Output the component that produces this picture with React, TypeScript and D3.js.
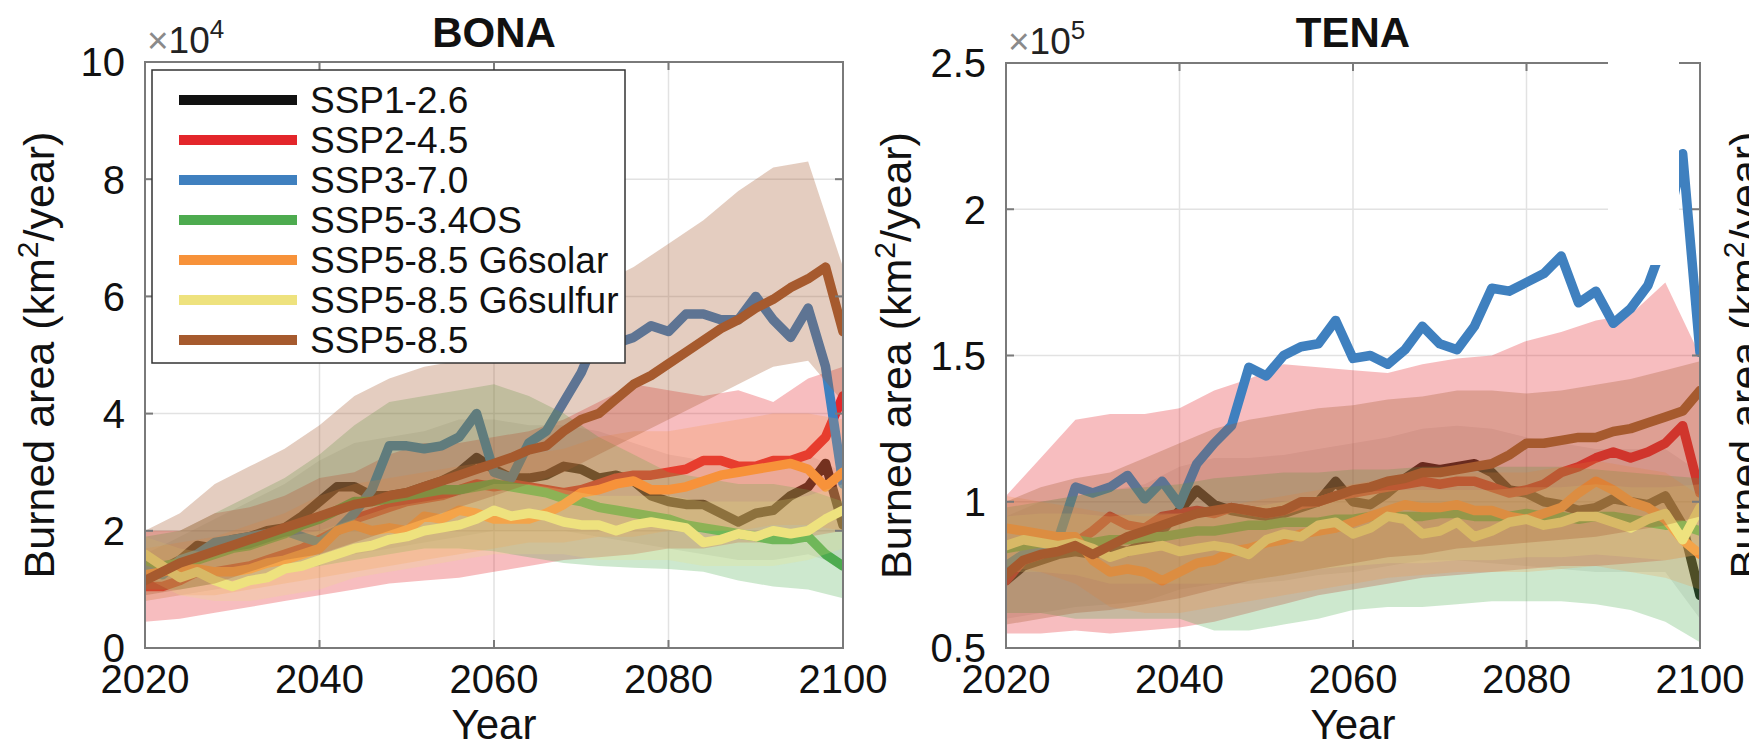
import React from "react";
import * as d3 from "d3";

const W = 1749;
const H = 748;
const FONT = "'Liberation Sans', Arial, Helvetica, sans-serif";

// years of the annual lines (read every 2 years) and of the spread bands (every 4 years)
const lineYears = d3.range(2020, 2101, 2);
const bandYears = d3.range(2020, 2101, 4);
const xTicks = [2020, 2040, 2060, 2080, 2100];

const scenarios = [
  "SSP1-2.6",
  "SSP2-4.5",
  "SSP3-7.0",
  "SSP5-3.4OS",
  "SSP5-8.5 G6solar",
  "SSP5-8.5 G6sulfur",
  "SSP5-8.5",
];
const colors = ["#111111", "#e3262b", "#3f80bf", "#4dab4f", "#f7923a", "#eee27e", "#a65a2e"];
const bandOpacity = [0.08, 0.3, 0, 0.28, 0.22, 0.22, 0.3];

// ---- BONA (x 10^4 km2/year)
const bonaSSP126 = [1.2, 1.35, 1.5, 1.75, 1.7, 1.85, 1.9, 2.0, 2.05, 2.25, 2.5, 2.75, 2.75, 2.6, 2.6, 2.65, 2.75, 2.85, 3.0, 3.25, 3.05, 2.9, 2.9, 2.95, 3.1, 3.05, 2.9, 2.95, 2.85, 2.6, 2.5, 2.45, 2.45, 2.3, 2.15, 2.3, 2.35, 2.6, 2.75, 3.15, 2.1];
const bonaSSP245 = [1.05, 1.05, 1.15, 1.3, 1.3, 1.35, 1.4, 1.5, 1.6, 1.7, 1.85, 2.0, 2.2, 2.3, 2.4, 2.5, 2.55, 2.6, 2.7, 2.8, 2.75, 2.8, 2.75, 2.7, 2.65, 2.7, 2.8, 2.9, 2.95, 2.95, 3.0, 3.05, 3.2, 3.2, 3.1, 3.1, 3.2, 3.2, 3.3, 3.6, 4.3];
const bonaSSP370 = [1.35, 1.25, 1.5, 1.6, 1.8, 1.85, 1.9, 1.95, 2.0, 1.9, 1.8, 2.0, 2.3, 2.7, 3.45, 3.45, 3.4, 3.45, 3.6, 4.0, 3.0, 2.9, 3.5, 3.7, 4.2, 4.7, 5.4, 5.2, 5.3, 5.5, 5.4, 5.7, 5.7, 5.6, 5.6, 6.0, 5.6, 5.3, 5.8, 4.8, 2.8];
const bonaSSP534 = [1.5, 1.4, 1.45, 1.5, 1.6, 1.7, 1.75, 1.85, 1.95, 2.1, 2.2, 2.35, 2.5, 2.5, 2.55, 2.6, 2.65, 2.7, 2.7, 2.75, 2.8, 2.75, 2.7, 2.65, 2.55, 2.5, 2.4, 2.35, 2.3, 2.25, 2.2, 2.1, 2.05, 2.0, 1.95, 1.9, 1.85, 1.85, 1.9, 1.6, 1.4];
const bonaG6solar = [1.25, 1.3, 1.35, 1.35, 1.3, 1.3, 1.35, 1.45, 1.5, 1.6, 1.7, 2.0, 2.1, 2.0, 2.05, 2.0, 2.25, 2.2, 2.35, 2.3, 2.2, 2.2, 2.2, 2.3, 2.45, 2.65, 2.7, 2.8, 2.85, 2.7, 2.7, 2.75, 2.85, 2.95, 3.0, 3.05, 3.1, 3.15, 3.05, 2.75, 3.0];
const bonaG6sulfur = [1.6, 1.4, 1.2, 1.3, 1.15, 1.05, 1.15, 1.2, 1.35, 1.4, 1.5, 1.6, 1.7, 1.75, 1.85, 1.9, 2.0, 2.05, 2.1, 2.2, 2.35, 2.25, 2.3, 2.25, 2.15, 2.1, 2.1, 2.0, 2.1, 2.15, 2.1, 2.05, 1.8, 1.85, 1.95, 1.9, 2.0, 1.95, 2.0, 2.2, 2.35];
const bonaSSP585 = [1.15, 1.3, 1.45, 1.55, 1.65, 1.75, 1.85, 1.95, 2.05, 2.15, 2.25, 2.35, 2.45, 2.5, 2.6, 2.65, 2.75, 2.85, 2.95, 3.05, 3.15, 3.25, 3.38, 3.45, 3.7, 3.9, 4.0, 4.25, 4.5, 4.65, 4.85, 5.05, 5.25, 5.45, 5.6, 5.8, 5.95, 6.15, 6.3, 6.5, 5.4];

const bonaSSP126Lo = [0.8, 0.9, 1.0, 1.1, 1.3, 1.5, 1.6, 1.7, 1.8, 1.9, 2.0, 2.0, 2.0, 1.9, 1.8, 1.7, 1.6, 1.5, 1.5, 1.6, 1.4];
const bonaSSP126Hi = [1.6, 1.9, 2.2, 2.5, 2.8, 3.2, 3.5, 3.6, 3.7, 3.9, 3.9, 3.8, 3.8, 3.7, 3.5, 3.3, 3.2, 3.1, 3.1, 3.3, 3.0];
const bonaSSP245Lo = [0.45, 0.5, 0.6, 0.7, 0.8, 0.9, 1.0, 1.1, 1.15, 1.2, 1.3, 1.4, 1.5, 1.55, 1.6, 1.7, 1.7, 1.8, 1.8, 1.9, 2.0];
const bonaSSP245Hi = [2.0, 2.0, 2.3, 2.4, 2.6, 2.9, 3.0, 3.3, 3.5, 3.5, 3.6, 3.7, 3.9, 4.2, 4.5, 4.4, 4.3, 4.4, 4.2, 4.6, 4.8];
const bonaSSP534Lo = [1.0, 1.0, 1.1, 1.2, 1.3, 1.4, 1.5, 1.6, 1.7, 1.7, 1.65, 1.55, 1.45, 1.4, 1.37, 1.35, 1.3, 1.15, 1.05, 1.0, 0.85];
const bonaSSP534Hi = [1.9, 2.0, 2.3, 2.6, 2.9, 3.3, 3.8, 4.2, 4.3, 4.4, 4.5, 4.3, 4.0, 3.6, 3.3, 3.0, 2.9, 2.8, 2.8, 2.7, 2.5];
const bonaG6solarLo = [0.8, 0.9, 0.9, 1.0, 1.1, 1.2, 1.3, 1.4, 1.5, 1.6, 1.7, 1.8, 1.8, 1.9, 1.9, 2.0, 2.0, 2.0, 2.1, 2.1, 2.0];
const bonaG6solarHi = [1.7, 1.8, 1.9, 2.1, 2.3, 2.6, 2.8, 2.9, 3.0, 3.1, 3.2, 3.3, 3.4, 3.6, 3.7, 3.7, 3.8, 3.9, 4.0, 4.0, 3.9];
const bonaG6sulfurLo = [1.2, 0.9, 0.8, 0.8, 0.9, 1.0, 1.2, 1.3, 1.4, 1.5, 1.6, 1.6, 1.6, 1.5, 1.5, 1.5, 1.4, 1.4, 1.4, 1.5, 1.7];
const bonaG6sulfurHi = [1.9, 1.7, 1.6, 1.7, 1.9, 2.0, 2.2, 2.4, 2.5, 2.6, 2.8, 2.8, 2.7, 2.6, 2.6, 2.6, 2.5, 2.5, 2.5, 2.6, 2.8];
const bonaSSP585Lo = [0.9, 1.0, 1.1, 1.3, 1.5, 1.6, 1.8, 2.0, 2.2, 2.4, 2.6, 2.8, 3.0, 3.3, 3.6, 3.9, 4.2, 4.5, 4.8, 4.9, 4.2];
const bonaSSP585Hi = [2.0, 2.3, 2.8, 3.1, 3.4, 3.8, 4.3, 4.6, 4.8, 4.9, 5.0, 5.1, 5.5, 6.2, 6.5, 6.9, 7.3, 7.8, 8.2, 8.3, 6.5];

// ---- TENA (x 10^5 km2/year)
const tenaSSP126 = [0.73, 0.78, 0.8, 0.82, 0.83, 0.82, 0.84, 0.83, 0.86, 0.9, 0.97, 1.04, 0.99, 0.97, 0.96, 0.95, 0.96, 0.98, 1.0, 1.07, 1.0, 0.99, 1.03, 1.08, 1.12, 1.11, 1.12, 1.13, 1.1, 1.04, 1.03, 1.0, 0.99, 0.97, 0.98, 1.01, 1.0, 0.99, 1.02, 0.92, 0.68];
const tenaSSP245 = [0.73, 0.8, 0.82, 0.85, 0.86, 0.9, 0.95, 0.92, 0.91, 0.95, 0.96, 0.97, 0.96, 0.98, 0.97, 0.96, 0.97, 0.99, 1.0, 1.02, 1.03, 1.04, 1.05, 1.06, 1.07, 1.06, 1.07, 1.07, 1.05, 1.03, 1.04, 1.06, 1.1, 1.12, 1.15, 1.17, 1.15, 1.17, 1.2, 1.26, 1.03];
const tenaSSP370 = [0.78, 0.82, 0.85, 0.87, 1.05, 1.03, 1.05, 1.09, 1.01, 1.07, 0.99, 1.13, 1.2, 1.26, 1.46, 1.43, 1.5, 1.53, 1.54, 1.62, 1.49, 1.5, 1.47, 1.52, 1.6, 1.54, 1.52, 1.6, 1.73, 1.72, 1.75, 1.78, 1.84, 1.68, 1.72, 1.61, 1.66, 1.74, 1.9, 2.19, 1.51];
const tenaSSP534 = [0.84, 0.85, 0.86, 0.86, 0.87, 0.86, 0.87, 0.87, 0.88, 0.88, 0.89, 0.9, 0.9, 0.91, 0.92, 0.92, 0.93, 0.93, 0.93, 0.94, 0.94, 0.95, 0.95, 0.95, 0.95, 0.96, 0.96, 0.95, 0.95, 0.95, 0.96, 0.95, 0.95, 0.94, 0.95, 0.95, 0.94, 0.93, 0.92, 0.92, 0.9];
const tenaG6solar = [0.91, 0.9, 0.89, 0.88, 0.88, 0.8, 0.76, 0.77, 0.76, 0.73, 0.76, 0.79, 0.8, 0.83, 0.84, 0.86, 0.87, 0.89, 0.9, 0.91, 0.93, 0.95, 0.97, 0.99, 0.98, 0.98, 0.99, 0.97, 0.97, 0.95, 0.94, 0.96, 0.98, 1.03, 1.07, 1.04, 1.0, 0.98, 0.94, 0.87, 0.82];
const tenaG6sulfur = [0.85, 0.87, 0.86, 0.85, 0.86, 0.84, 0.81, 0.83, 0.84, 0.85, 0.83, 0.84, 0.85, 0.84, 0.82, 0.87, 0.89, 0.88, 0.92, 0.93, 0.89, 0.91, 0.95, 0.94, 0.89, 0.9, 0.93, 0.88, 0.9, 0.93, 0.94, 0.92, 0.93, 0.95, 0.95, 0.93, 0.91, 0.94, 0.96, 0.87, 0.98];
const tenaSSP585 = [0.75, 0.8, 0.82, 0.83, 0.85, 0.82, 0.85, 0.88, 0.9, 0.92, 0.94, 0.96, 0.97, 0.98, 0.97, 0.96, 0.97, 1.0, 1.0, 1.02, 1.04, 1.05, 1.07, 1.08, 1.1, 1.1, 1.11, 1.12, 1.13, 1.16, 1.2, 1.2, 1.21, 1.22, 1.22, 1.24, 1.25, 1.27, 1.29, 1.31, 1.38];

const tenaSSP126Lo = [0.6, 0.62, 0.64, 0.65, 0.66, 0.7, 0.72, 0.72, 0.73, 0.75, 0.76, 0.78, 0.8, 0.8, 0.79, 0.78, 0.77, 0.76, 0.76, 0.76, 0.6];
const tenaSSP126Hi = [0.95, 1.0, 1.02, 1.04, 1.06, 1.12, 1.15, 1.15, 1.16, 1.18, 1.2, 1.22, 1.25, 1.26, 1.25, 1.22, 1.2, 1.18, 1.18, 1.18, 1.1];
const tenaSSP245Lo = [0.55, 0.55, 0.56, 0.55, 0.56, 0.57, 0.59, 0.62, 0.65, 0.68, 0.7, 0.72, 0.74, 0.75, 0.76, 0.77, 0.78, 0.78, 0.79, 0.8, 0.82];
const tenaSSP245Hi = [1.02, 1.15, 1.28, 1.3, 1.3, 1.32, 1.38, 1.42, 1.47, 1.46, 1.45, 1.44, 1.47, 1.49, 1.5, 1.55, 1.58, 1.62, 1.64, 1.75, 1.5];
const tenaSSP534Lo = [0.62, 0.62, 0.6, 0.6, 0.6, 0.6, 0.56, 0.56, 0.58, 0.6, 0.63, 0.64, 0.64, 0.65, 0.66, 0.66, 0.66, 0.65, 0.63, 0.59, 0.52];
const tenaSSP534Hi = [0.98, 1.0, 1.02, 1.04, 1.05, 1.06, 1.08, 1.09, 1.1, 1.1, 1.11, 1.11, 1.12, 1.12, 1.12, 1.12, 1.12, 1.11, 1.1, 1.09, 1.08];
const tenaG6solarLo = [0.78, 0.76, 0.72, 0.64, 0.62, 0.62, 0.64, 0.66, 0.68, 0.7, 0.72, 0.74, 0.75, 0.76, 0.76, 0.76, 0.77, 0.78, 0.76, 0.74, 0.7];
const tenaG6solarHi = [1.02, 1.0, 0.98, 0.96, 0.95, 0.96, 0.98, 1.0, 1.02, 1.04, 1.06, 1.08, 1.1, 1.1, 1.1, 1.1, 1.12, 1.14, 1.12, 1.1, 1.02];
const tenaG6sulfurLo = [0.76, 0.76, 0.75, 0.72, 0.72, 0.72, 0.72, 0.73, 0.75, 0.77, 0.78, 0.79, 0.79, 0.8, 0.8, 0.81, 0.81, 0.82, 0.81, 0.8, 0.82];
const tenaG6sulfurHi = [0.95, 0.96, 0.96, 0.95, 0.96, 0.96, 0.97, 0.98, 1.0, 1.02, 1.03, 1.04, 1.04, 1.04, 1.04, 1.05, 1.05, 1.06, 1.05, 1.05, 1.06];
const tenaSSP585Lo = [0.58, 0.6, 0.62, 0.63, 0.65, 0.67, 0.7, 0.73, 0.75, 0.77, 0.79, 0.81, 0.82, 0.84, 0.85, 0.86, 0.87, 0.88, 0.9, 0.92, 0.95];
const tenaSSP585Hi = [1.0, 1.05, 1.08, 1.1, 1.15, 1.2, 1.25, 1.28, 1.3, 1.32, 1.33, 1.35, 1.36, 1.38, 1.38, 1.37, 1.38, 1.4, 1.42, 1.45, 1.48];

const bonaLines = [bonaSSP126, bonaSSP245, bonaSSP370, bonaSSP534, bonaG6solar, bonaG6sulfur, bonaSSP585];
const bonaLo = [bonaSSP126Lo, bonaSSP245Lo, null, bonaSSP534Lo, bonaG6solarLo, bonaG6sulfurLo, bonaSSP585Lo];
const bonaHi = [bonaSSP126Hi, bonaSSP245Hi, null, bonaSSP534Hi, bonaG6solarHi, bonaG6sulfurHi, bonaSSP585Hi];
const tenaLines = [tenaSSP126, tenaSSP245, tenaSSP370, tenaSSP534, tenaG6solar, tenaG6sulfur, tenaSSP585];
const tenaLo = [tenaSSP126Lo, tenaSSP245Lo, null, tenaSSP534Lo, tenaG6solarLo, tenaG6sulfurLo, tenaSSP585Lo];
const tenaHi = [tenaSSP126Hi, tenaSSP245Hi, null, tenaSSP534Hi, tenaG6solarHi, tenaG6sulfurHi, tenaSSP585Hi];

const bonaTicks = [0, 2, 4, 6, 8, 10];
const tenaTicks = [0.5, 1, 1.5, 2, 2.5];

const AXIS = "#7a7a7a";
const GRID = "#e2e2e2";
const LABEL_SIZE = 43;
const TICK_SIZE = 40;

type PanelProps = {
  id: string;
  left: number;
  right: number;
  top: number;
  bottom: number;
  domain: [number, number];
  ticks: number[];
  lines: number[][];
  lo: (number[] | null)[];
  hi: (number[] | null)[];
  title: string;
  exp: string;
  ylabelX: number;
};

function YLabel({ x, y }: { x: number; y: number }) {
  return (
    <text
      transform={`translate(${x},${y}) rotate(-90)`}
      textAnchor="middle"
      fontSize={LABEL_SIZE}
      fontFamily={FONT}
      fill="#111"
    >
      Burned area (km
      <tspan dy={-16} fontSize={30}>2</tspan>
      <tspan dy={16}>/year)</tspan>
    </text>
  );
}

function Panel(p: PanelProps) {
  const x = d3.scaleLinear().domain([2020, 2100]).range([p.left, p.right]);
  const y = d3.scaleLinear().domain(p.domain).range([p.bottom, p.top]);
  const line = d3
    .line<number>()
    .x((_, i) => x(lineYears[i]))
    .y((d) => y(d));
  const area = (lo: number[], hi: number[]) =>
    d3
      .area<number>()
      .x((_, i) => x(bandYears[i]))
      .y0((_, i) => y(lo[i]))
      .y1((d) => y(d))(hi);
  const cx = (p.left + p.right) / 2;
  const cy = (p.top + p.bottom) / 2;

  return (
    <g fontFamily={FONT}>
      <defs>
        <clipPath id={`clip-${p.id}`}>
          <rect x={p.left} y={p.top} width={p.right - p.left} height={p.bottom - p.top} />
        </clipPath>
      </defs>

      {/* grid */}
      {xTicks.slice(1, -1).map((t) => (
        <line key={`gx${t}`} x1={x(t)} x2={x(t)} y1={p.top} y2={p.bottom} stroke={GRID} strokeWidth={1.5} />
      ))}
      {p.ticks.slice(1, -1).map((t) => (
        <line key={`gy${t}`} x1={p.left} x2={p.right} y1={y(t)} y2={y(t)} stroke={GRID} strokeWidth={1.5} />
      ))}

      {/* spread bands and ensemble mean lines, one scenario after the other */}
      <g clipPath={`url(#clip-${p.id})`}>
        {p.lines.map((vals, i) => (
          <g key={scenarios[i]}>
            {p.lo[i] && p.hi[i] ? (
              <path d={area(p.lo[i]!, p.hi[i]!) || ""} fill={colors[i]} fillOpacity={bandOpacity[i]} stroke="none" />
            ) : null}
            <path d={line(vals) || ""} fill="none" stroke={colors[i]} strokeWidth={9.5} strokeLinejoin="round" strokeLinecap="round" />
          </g>
        ))}
      </g>

      {/* box + inward ticks */}
      <rect x={p.left} y={p.top} width={p.right - p.left} height={p.bottom - p.top} fill="none" stroke={AXIS} strokeWidth={2} />
      {xTicks.map((t) => (
        <g key={`tx${t}`}>
          <line x1={x(t)} x2={x(t)} y1={p.bottom} y2={p.bottom - 8} stroke={AXIS} strokeWidth={2} />
          <line x1={x(t)} x2={x(t)} y1={p.top} y2={p.top + 8} stroke={AXIS} strokeWidth={2} />
          <text x={x(t)} y={p.bottom + 45} textAnchor="middle" fontSize={TICK_SIZE} fill="#111">
            {t}
          </text>
        </g>
      ))}
      {p.ticks.map((t) => (
        <g key={`ty${t}`}>
          <line x1={p.left} x2={p.left + 8} y1={y(t)} y2={y(t)} stroke={AXIS} strokeWidth={2} />
          <line x1={p.right} x2={p.right - 8} y1={y(t)} y2={y(t)} stroke={AXIS} strokeWidth={2} />
          <text x={p.left - 20} y={y(t)} dy="0.36em" textAnchor="end" fontSize={TICK_SIZE} fill="#111">
            {t}
          </text>
        </g>
      ))}

      {/* exponent */}
      <text x={p.left + 2} y={p.top - 9} fontSize={37}>
        <tspan fill="#8a8a8a">×</tspan>
        <tspan fill="#222">10</tspan>
        <tspan fill="#222" fontSize={26} dy={-15}>{p.exp}</tspan>
      </text>

      <text x={cx} y={47} textAnchor="middle" fontSize={42} fontWeight="bold" fill="#111">
        {p.title}
      </text>
      <text x={cx} y={739} textAnchor="middle" fontSize={42} fill="#111">
        Year
      </text>
      <YLabel x={p.ylabelX} y={cy} />
    </g>
  );
}

function Legend() {
  const top = 70;
  const left = 152;
  const rowY = (i: number) => 100 + i * 40;
  return (
    <g fontFamily={FONT}>
      <rect x={left} y={top} width={473} height={293} fill="#fff" stroke="#333" strokeWidth={1.5} />
      {scenarios.map((s, i) => (
        <g key={s}>
          <line x1={179} x2={297} y1={rowY(i)} y2={rowY(i)} stroke={colors[i]} strokeWidth={10} />
          <text x={310} y={rowY(i)} dy="0.36em" fontSize={37} fill="#111">
            {s}
          </text>
        </g>
      ))}
    </g>
  );
}

export default function App() {
  return (
    <svg
      width={W}
      height={H}
      viewBox={`0 0 ${W} ${H}`}
      style={{ position: "absolute", left: 0, top: 0, background: "#fff" }}
    >
      <rect width={W} height={H} fill="#fff" />
      <Panel
        id="bona"
        left={145}
        right={843}
        top={62}
        bottom={648}
        domain={[0, 10]}
        ticks={bonaTicks}
        lines={bonaLines}
        lo={bonaLo}
        hi={bonaHi}
        title="BONA"
        exp="4"
        ylabelX={54}
      />
      <Legend />
      <Panel
        id="tena"
        left={1006}
        right={1700}
        top={63}
        bottom={648}
        domain={[0.5, 2.5]}
        ticks={tenaTicks}
        lines={tenaLines}
        lo={tenaLo}
        hi={tenaHi}
        title="TENA"
        exp="5"
        ylabelX={911}
      />
      {/* white patch over the top right of the TENA panel, as in the source figure */}
      <rect x={1608} y={55} width={71} height={210} fill="#fff" />
      {/* the next panel's y label, cut by the right edge */}
      <YLabel x={1760} y={355} />
    </svg>
  );
}
